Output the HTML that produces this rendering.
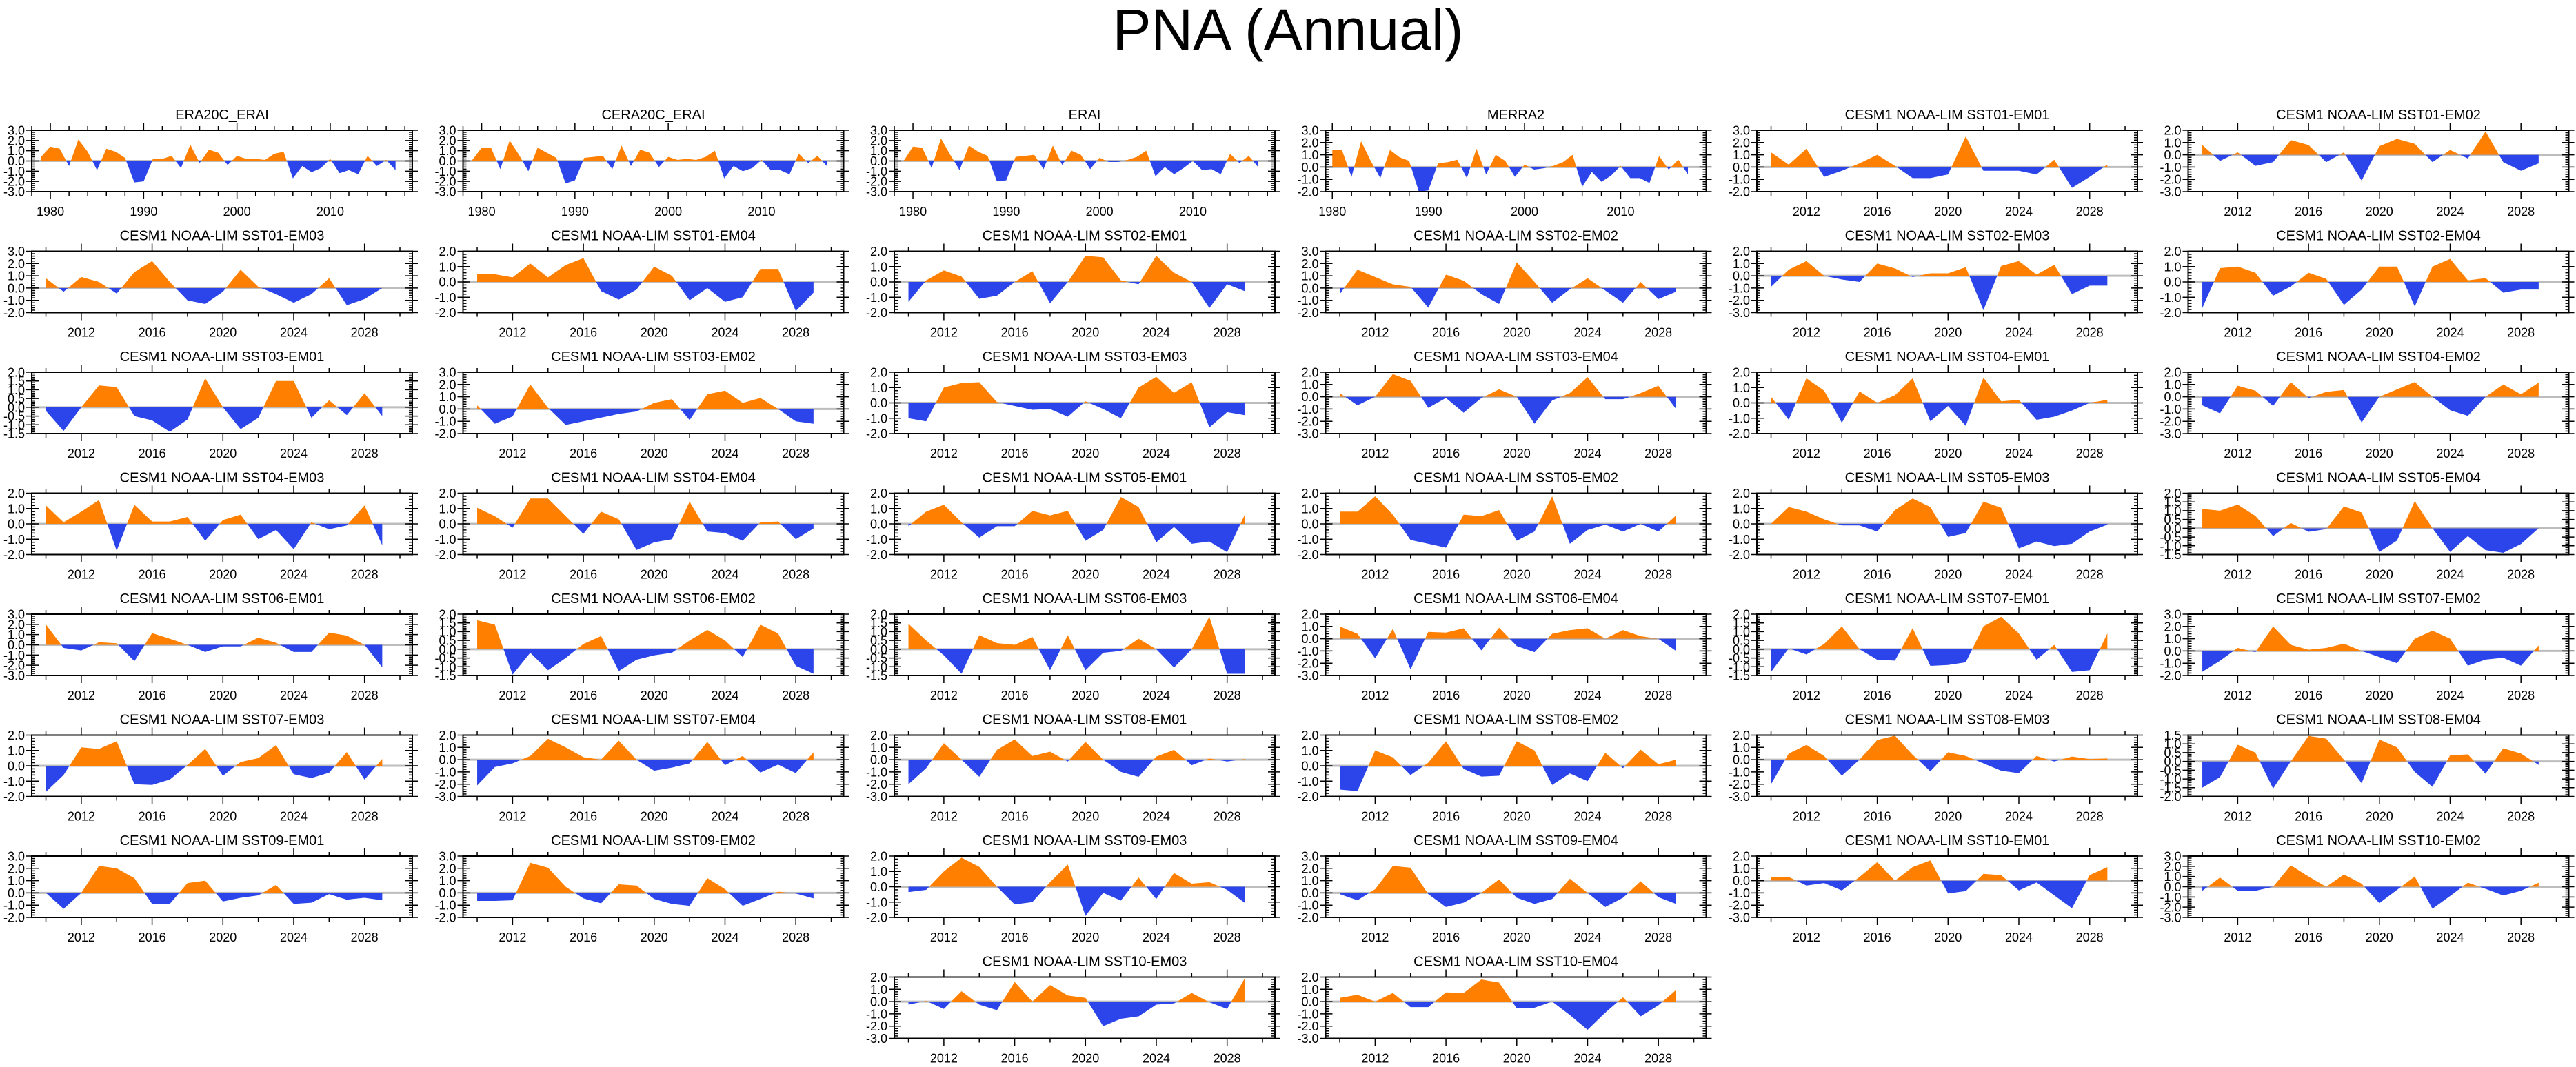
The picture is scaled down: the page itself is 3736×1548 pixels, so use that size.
<!DOCTYPE html>
<html><head><meta charset="utf-8"><title>PNA (Annual)</title>
<style>
html,body{margin:0;padding:0;background:#fff;}
svg{display:block;font-family:"Liberation Sans",Arial,sans-serif;}
</style></head>
<body>
<svg id="chart" width="3736" height="1548" viewBox="0 0 3736 1548" xmlns="http://www.w3.org/2000/svg">
<rect x="0" y="0" width="3736" height="1548" fill="#fff"/>
<text x="1868" y="72" font-size="84" text-anchor="middle" fill="#000">PNA (Annual)</text>
<g id="panels"></g>
</svg>
<script>
const panelTitles = ["ERA20C_ERAI","CERA20C_ERAI","ERAI","MERRA2",
"CESM1 NOAA-LIM SST01-EM01","CESM1 NOAA-LIM SST01-EM02","CESM1 NOAA-LIM SST01-EM03","CESM1 NOAA-LIM SST01-EM04",
"CESM1 NOAA-LIM SST02-EM01","CESM1 NOAA-LIM SST02-EM02","CESM1 NOAA-LIM SST02-EM03","CESM1 NOAA-LIM SST02-EM04",
"CESM1 NOAA-LIM SST03-EM01","CESM1 NOAA-LIM SST03-EM02","CESM1 NOAA-LIM SST03-EM03","CESM1 NOAA-LIM SST03-EM04",
"CESM1 NOAA-LIM SST04-EM01","CESM1 NOAA-LIM SST04-EM02","CESM1 NOAA-LIM SST04-EM03","CESM1 NOAA-LIM SST04-EM04",
"CESM1 NOAA-LIM SST05-EM01","CESM1 NOAA-LIM SST05-EM02","CESM1 NOAA-LIM SST05-EM03","CESM1 NOAA-LIM SST05-EM04",
"CESM1 NOAA-LIM SST06-EM01","CESM1 NOAA-LIM SST06-EM02","CESM1 NOAA-LIM SST06-EM03","CESM1 NOAA-LIM SST06-EM04",
"CESM1 NOAA-LIM SST07-EM01","CESM1 NOAA-LIM SST07-EM02","CESM1 NOAA-LIM SST07-EM03","CESM1 NOAA-LIM SST07-EM04",
"CESM1 NOAA-LIM SST08-EM01","CESM1 NOAA-LIM SST08-EM02","CESM1 NOAA-LIM SST08-EM03","CESM1 NOAA-LIM SST08-EM04",
"CESM1 NOAA-LIM SST09-EM01","CESM1 NOAA-LIM SST09-EM02","CESM1 NOAA-LIM SST09-EM03","CESM1 NOAA-LIM SST09-EM04",
"CESM1 NOAA-LIM SST10-EM01","CESM1 NOAA-LIM SST10-EM02","CESM1 NOAA-LIM SST10-EM03","CESM1 NOAA-LIM SST10-EM04"];
const startYears = [1979,1979,1979,1980].concat(new Array(40).fill(2010));
const yMinVals = [-3,-3,-3,-2, -2,-3,-2,-2, -2,-2,-3,-2, -1.5,-2,-2,-3, -2,-3,-2,-2, -2,-2,-2,-1.5, -3,-1.5,-1.5,-3, -1.5,-2,-2,-3, -3,-2,-3,-2, -2,-2,-2,-2, -3,-3,-3,-3];
const yMaxVals = [3,3,3,3, 3,2,3,2, 2,3,2,2, 2,3,2,2, 2,2,2,2, 2,2,2,2, 3,2,2,2, 2,3,2,2, 2,2,2,1.5, 3,3,2,3, 2,3,2,2];
const seriesValues = [
[0.4,1.4,1.2,-0.5,2.1,0.9,-0.9,1.2,0.9,0.3,-2.1,-2.0,0.2,0.2,0.5,-0.7,1.6,-0.2,1.1,0.8,-0.4,0.5,0.2,0.2,0.1,0.7,0.9,-1.7,-0.5,-1.1,-0.7,0.2,-1.2,-0.9,-1.3,0.5,-0.5,0.1,-0.9],
[0.1,1.3,1.3,-0.8,2.0,0.6,-1.0,1.3,0.8,0.3,-2.2,-1.9,0.3,0.4,0.5,-0.8,1.5,-0.5,1.1,0.8,-0.6,0.4,0.1,0.2,0.1,0.4,1.0,-1.7,-0.5,-1.0,-0.7,0.1,-0.9,-0.9,-1.3,0.7,-0.2,0.5,-0.5],
[0.0,1.4,1.3,-0.7,2.2,0.6,-0.9,1.5,0.9,0.5,-2.0,-1.9,0.4,0.5,0.6,-0.8,1.5,-0.4,1.0,0.6,-0.8,0.3,-0.1,-0.1,0.1,0.4,1.0,-1.5,-0.6,-1.3,-0.7,0.0,-0.9,-0.8,-1.3,0.7,-0.2,0.5,-0.6],
[1.4,1.4,-0.8,2.1,0.5,-0.9,1.4,0.8,0.5,-2.0,-1.9,0.3,0.4,0.6,-0.9,1.5,-0.6,1.0,0.5,-0.8,0.2,-0.2,-0.1,0.1,0.4,1.0,-1.6,-0.4,-1.2,-0.7,0.1,-0.9,-0.9,-1.3,0.9,-0.2,0.6,-0.6],
[1.2,0.2,1.5,-0.8,-0.3,0.3,1.0,0.1,-0.9,-0.9,-0.6,2.5,-0.3,-0.3,-0.3,-0.6,0.6,-1.7,-0.8,0.2],
[0.8,-0.5,0.2,-0.9,-0.6,1.2,0.8,-0.6,0.2,-2.1,0.7,1.3,0.9,-0.6,0.4,-0.3,1.9,-0.6,-1.3,-0.7],
[0.8,-0.3,0.9,0.5,-0.45,1.3,2.2,0.5,-1.0,-1.3,-0.3,1.5,0.1,-0.5,-1.2,-0.5,0.8,-1.4,-0.9,0.0],
[0.5,0.5,0.3,1.2,0.3,1.1,1.55,-0.6,-1.15,-0.5,1.0,0.4,-1.2,-0.4,-1.3,-1.0,0.85,0.85,-1.9,-0.7],
[-1.3,0.1,0.75,0.35,-1.1,-0.9,0.0,0.7,-1.4,0.0,1.7,1.6,0.1,-0.15,1.7,0.6,0.0,-1.7,-0.15,-0.6],
[-0.5,1.5,0.9,0.3,0.1,-1.6,1.1,0.6,-0.5,-1.3,2.1,0.5,-1.2,-0.1,0.8,-0.2,-1.2,0.5,-0.9,-0.3],
[-0.9,0.5,1.2,0.0,-0.3,-0.5,1.0,0.6,-0.1,0.2,0.2,0.7,-2.8,0.8,1.2,0.1,0.9,-1.5,-0.8,-0.8],
[-1.7,0.9,1.0,0.6,-0.9,-0.3,0.6,0.2,-1.5,-0.5,1.0,1.0,-1.6,1.0,1.5,0.1,0.25,-0.7,-0.5,-0.5],
[-0.2,-1.35,0.0,1.25,1.15,-0.5,-0.75,-1.4,-0.7,1.65,0.0,-1.25,-0.6,1.5,1.5,-0.6,0.4,-0.45,0.8,-0.5],
[0.3,-1.2,-0.6,2.0,0.1,-1.3,-1.0,-0.7,-0.4,-0.2,0.5,0.8,-0.9,1.2,1.5,0.5,0.9,0.0,-1.0,-1.2],
[-1.0,-1.2,1.0,1.3,1.35,0.05,-0.2,-0.45,-0.4,-0.9,0.1,-0.4,-1.0,1.0,1.7,0.65,1.35,-1.6,-0.6,-0.8],
[0.3,-0.7,0.0,1.85,1.3,-0.9,-0.1,-1.3,-0.1,0.6,0.0,-2.2,-0.3,0.3,1.6,-0.2,-0.2,0.3,0.9,-1.0],
[0.4,-1.1,1.6,0.8,-1.3,0.75,0.0,0.5,1.6,-1.2,-0.2,-1.5,1.65,0.1,0.2,-1.1,-0.9,-0.5,0.0,0.2],
[-0.7,-1.35,0.9,0.5,-0.75,1.2,-0.1,0.4,0.55,-2.1,0.0,0.6,1.2,0.0,-1.1,-1.55,0.0,1.0,0.2,1.15],
[1.2,0.1,0.8,1.55,-1.75,1.25,0.15,0.15,0.45,-1.1,0.25,0.6,-1.0,-0.4,-1.65,0.1,-0.35,-0.1,1.2,-1.4],
[1.05,0.5,-0.25,1.65,1.65,0.5,-0.65,0.8,0.3,-1.7,-1.2,-1.0,1.45,-0.5,-0.6,-1.1,0.1,0.15,-1.0,-0.3],
[-0.15,0.8,1.25,0.1,-0.9,-0.15,-0.15,0.85,0.55,0.85,-1.1,-0.4,1.75,1.1,-1.2,-0.2,-1.3,-1.15,-1.85,0.6],
[0.8,0.8,1.8,0.6,-1.05,-1.3,-1.55,0.6,0.5,0.9,-1.1,-0.5,1.8,-1.3,-0.4,-0.05,-0.5,0.0,-0.5,0.55],
[0.0,1.1,0.8,0.3,-0.1,-0.1,-0.5,0.9,1.65,1.1,-0.85,-0.6,1.45,1.05,-1.6,-1.15,-1.45,-1.3,-0.5,-0.05],
[1.1,1.0,1.35,0.7,-0.45,0.3,-0.2,-0.05,1.25,0.9,-1.35,-0.7,1.55,0.0,-1.35,-0.45,-1.25,-1.4,-0.9,0.0],
[2.0,-0.3,-0.55,0.25,0.15,-1.6,1.15,0.6,0.0,-0.7,-0.15,-0.15,0.7,0.2,-0.7,-0.7,1.2,0.9,0.0,-2.2],
[1.65,1.4,-1.45,-0.2,-1.2,-0.5,0.3,0.75,-1.25,-0.6,-0.35,-0.2,0.5,1.1,0.5,-0.45,1.4,0.9,-0.95,-1.4],
[1.45,0.5,-0.35,-1.4,0.8,0.35,0.25,0.7,-1.2,0.8,-1.2,-0.2,-0.1,0.6,0.0,-1.05,0.0,1.85,-1.4,-1.4],
[1.0,0.4,-1.6,0.8,-2.5,0.55,0.5,0.85,-0.95,0.9,-0.6,-1.1,0.4,0.7,0.85,0.0,0.7,0.2,0.0,-1.0],
[-1.3,0.05,-0.3,0.3,1.3,0.0,-0.6,-0.65,1.2,-0.95,-0.9,-0.75,1.3,1.85,0.9,-0.6,0.25,-1.3,-1.2,0.9],
[-1.7,-0.8,0.25,-0.1,2.0,0.5,0.1,0.25,0.6,0.0,-0.5,-1.0,1.0,1.65,1.0,-1.2,-0.7,-0.55,-1.2,0.45],
[-1.7,-0.6,1.2,1.1,1.6,-1.2,-1.25,-0.9,0.05,1.1,-0.65,0.25,0.5,1.35,-0.55,-0.8,-0.45,0.9,-0.9,0.45],
[-2.1,-0.6,-0.3,0.3,1.7,1.0,0.2,0.0,1.55,0.0,-0.9,-0.65,-0.3,1.45,-0.45,0.3,-1.05,-0.4,-1.1,0.6],
[-2.0,-0.7,1.35,0.0,-1.4,0.8,1.65,0.3,0.65,-0.15,1.45,0.0,-1.0,-1.4,0.25,0.8,-0.45,0.1,-0.15,0.05],
[-1.55,-1.65,1.0,0.55,-0.6,0.2,1.6,-0.2,-0.7,-0.65,1.6,1.0,-1.25,-0.5,-1.0,0.85,-0.15,1.05,0.1,0.4],
[-2.0,0.5,1.2,0.3,-1.3,0.0,1.6,1.95,0.4,-0.95,0.6,0.3,-0.3,-0.9,-1.1,0.3,-0.15,0.25,0.05,0.1],
[-1.5,-0.9,0.95,0.5,-1.55,0.0,1.45,1.3,0.1,-1.25,1.25,0.8,-0.6,-1.45,0.35,0.4,-0.7,0.75,0.45,-0.2],
[0.0,-1.3,0.0,2.2,2.0,1.2,-0.9,-0.9,0.8,1.0,-0.7,-0.4,-0.2,0.65,-0.9,-0.8,-0.1,-0.55,-0.4,-0.6],
[-0.65,-0.65,-0.6,2.45,2.05,0.5,-0.45,-0.85,0.7,0.6,-0.5,-0.9,-1.05,1.2,0.3,-1.05,-0.5,0.1,-0.05,-0.45],
[-0.35,-0.2,1.0,1.9,1.3,0.0,-1.15,-1.0,0.3,1.45,-1.9,-0.4,-0.9,0.6,-0.8,0.9,0.2,0.3,-0.2,-1.05],
[-0.1,-0.6,0.3,2.2,2.05,-0.1,-1.15,-0.8,0.0,1.1,-0.4,-0.9,-0.5,1.15,0.0,-1.15,-0.4,0.95,-0.35,-0.9],
[0.3,0.3,-0.4,-0.2,-0.8,0.3,1.5,0.0,1.1,1.65,-1.05,-0.85,0.55,0.45,-0.8,-0.15,-1.2,-2.25,0.45,1.1],
[-0.4,0.9,-0.4,-0.4,0.0,2.1,1.0,0.0,1.2,0.3,-1.6,-0.3,1.0,-2.15,-0.9,0.4,-0.2,-0.85,-0.4,0.4],
[-0.25,0.05,-0.6,0.85,-0.25,-0.7,1.6,0.0,1.35,0.5,0.3,-2.0,-1.4,-1.2,-0.25,-0.15,0.7,-0.05,-0.6,1.9],
[0.3,0.55,0.0,0.7,-0.45,-0.45,0.75,0.7,1.8,1.55,-0.55,-0.5,0.0,-1.1,-2.3,-0.9,0.35,-1.2,-0.3,0.95]
];

const NS = "http://www.w3.org/2000/svg";
const root = document.getElementById('panels');
function mk(tag, attrs, parent){
  const e = document.createElementNS(NS, tag);
  for (const k in attrs) e.setAttribute(k, attrs[k]);
  parent.appendChild(e);
  return e;
}
function slug(s){ return s.toLowerCase().replace(/[^a-z0-9]+/g,'-').replace(/^-|-$/g,''); }
function fmt(v){ const s = Math.abs(v) < 1e-9 ? "0.0" : v.toFixed(1); return s; }

const PW = 552, PH = 89;
panelTitles.forEach(function(title, i){
  let r, c;
  if (i < 42) { r = Math.floor(i/6); c = i % 6; } else { r = 7; c = 2 + (i - 42); }
  const L = 46 + 625.5*c, T = 189 + 175.5*r, B = T + PH, R = L + PW;
  let xmin, xmax;
  if (i < 3) { xmin = 1978.0; xmax = 2018.8; }
  else if (i === 3) { xmin = 1979.3; xmax = 2018.9; }
  else { xmin = 2009.2; xmax = 2030.7; }
  const ymin = yMinVals[i], ymax = yMaxVals[i];
  const xs = function(yr){ return L + (yr - xmin)/(xmax - xmin)*PW; };
  const ys = function(v){ return B - (v - ymin)/(ymax - ymin)*PH; };
  const g = mk('g', {}, root);
  
  

  const cid = 'clip' + i;
  const defs = mk('defs', {}, g);
  const cp1 = mk('clipPath', {id: cid + 'a'}, defs);
  mk('rect', {x: L, y: T, width: PW, height: ys(0) - T}, cp1);
  const cp2 = mk('clipPath', {id: cid + 'b'}, defs);
  mk('rect', {x: L, y: ys(0), width: PW, height: B - ys(0)}, cp2);

  // zero line
  const zl = mk('line', {x1: L, x2: R, y1: ys(0), y2: ys(0), stroke: '#bdbdbd', 'stroke-width': 3}, g);
  
  

  const vals = seriesValues[i], y0 = startYears[i];
  let d = '';
  vals.forEach(function(v, k){ d += (k ? ' L' : 'M') + xs(y0 + k).toFixed(2) + ',' + ys(v).toFixed(2); });
  d += ' L' + xs(y0 + vals.length - 1).toFixed(2) + ',' + ys(0).toFixed(2) + ' L' + xs(y0).toFixed(2) + ',' + ys(0).toFixed(2) + ' Z';
  const pos = mk('path', {d: d, fill: '#ff8000', 'clip-path': 'url(#' + cid + 'a)'}, g);
  
  
  const neg = mk('path', {d: d, fill: '#2b45eb', 'clip-path': 'url(#' + cid + 'b)'}, g);
  
  

  // frame
  const fr = mk('rect', {x: L, y: T, width: PW, height: PH, fill: 'none', stroke: '#000', 'stroke-width': 2}, g);
  
  

  // x ticks
  const tk = mk('g', {stroke: '#000', 'stroke-width': 1.5}, g);
  
  
  const t0 = Math.ceil(xmin/2)*2;
  for (let yr = t0; yr <= xmax; yr += 2) {
    const major = (i < 4) ? (yr % 10 === 0) : ((yr - 2012) % 4 === 0);
    const len = major ? 11 : 6;
    const x = xs(yr);
    mk('line', {x1: x, x2: x, y1: T, y2: T - len}, tk);
    mk('line', {x1: x, x2: x, y1: B, y2: B + len}, tk);
    if (major) {
      const lb = mk('text', {x: x, y: B + 35, 'font-size': 18, 'text-anchor': 'middle', fill: '#000', stroke: 'none'}, g);
      lb.textContent = String(yr);
      
      
    }
  }
  // y ticks
  const step = (ymax - ymin) <= 3.5 ? 0.5 : 1.0;
  const mstep = step / 5;
  const nMinor = Math.round((ymax - ymin)/mstep);
  for (let k = 0; k <= nMinor; k++) {
    const v = ymin + k*mstep, y = ys(v);
    mk('line', {x1: L, x2: L + 5, y1: y, y2: y}, tk);
    mk('line', {x1: R, x2: R - 5, y1: y, y2: y}, tk);
  }
  const nMaj = Math.round((ymax - ymin)/step);
  for (let k = 0; k <= nMaj; k++) {
    const v = ymin + k*step, y = ys(v);
    mk('line', {x1: L - 8, x2: L + 10, y1: y, y2: y}, tk);
    mk('line', {x1: R + 8, x2: R - 10, y1: y, y2: y}, tk);
    const lb = mk('text', {x: L - 10, y: y + 6.5, 'font-size': 18, 'text-anchor': 'end', fill: '#000'}, g);
    lb.textContent = fmt(v);
    
    
  }
  const tt = mk('text', {x: L + PW/2, y: T - 16, 'font-size': 20, 'text-anchor': 'middle', fill: '#000'}, g);
  tt.textContent = title;
  
  
});
</script>
</body></html>
